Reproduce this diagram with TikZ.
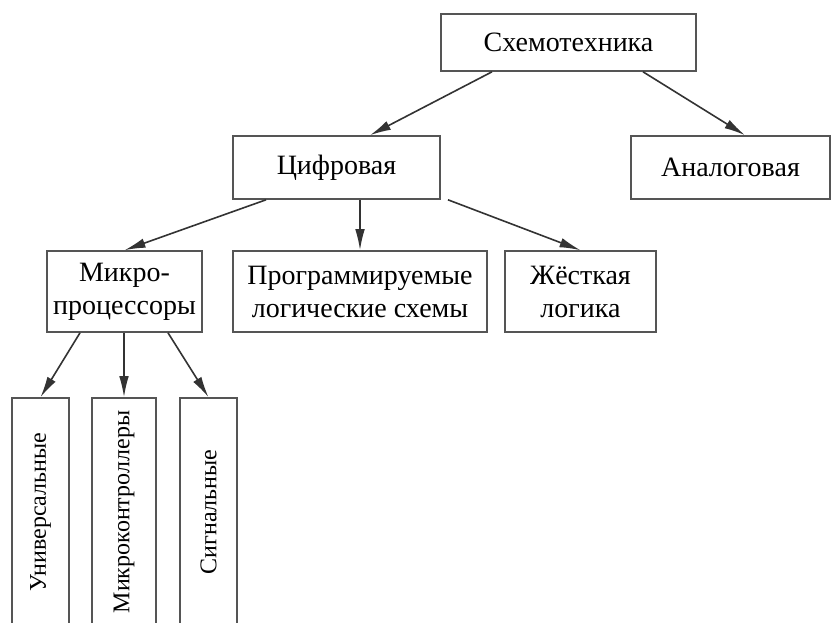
\documentclass[tikz,border=0pt]{standalone}
\usepackage{fontspec}
\setmainfont{Liberation Serif}
\usepackage{tikz}
\usetikzlibrary{calc,arrows.meta}
\definecolor{frame}{HTML}{555555}
\definecolor{wire}{HTML}{333333}
\tikzset{blk/.style={rectangle,draw=frame,thick,fill=white,inner sep=2pt,align=center,font=\fontsize{14}{16.5}\selectfont},
  vblk/.style={blk,rotate=90,minimum width=114pt,minimum height=28.5pt,font=\fontsize{12}{14}\selectfont},
  arr/.style={draw=wire,thick,-{Latex[length=10.5pt,width=4.8pt]}}}
\begin{document}
\begin{tikzpicture}[x=0.5pt,y=-0.5pt]
\useasboundingbox (0,0) rectangle (833,622);
\clip (0,0) rectangle (833,622);
\node[blk,minimum width=127.5pt,minimum height=28.5pt] (top) at (568.5,42.5) {Схемотехника};
\node[blk,minimum width=103.5pt,minimum height=31.5pt] (dig) at (336.5,167.5) {Цифровая};
\node[blk,minimum width=99.5pt,minimum height=31.5pt] (ana) at (730.5,167.5) {Аналоговая};
\node[blk,minimum width=77.5pt,minimum height=40.5pt] (mp) at (124.5,291.5) {Микро-\\процессоры};
\node[blk,minimum width=127pt,minimum height=40.5pt] (pls) at (360,291.5) {Программируемые\\логические схемы};
\node[blk,minimum width=75.5pt,minimum height=40.5pt] (hard) at (580.5,291.5) {Жёсткая\\логика};
\node[vblk] (uni) at (40.5,512) {Универсальные};
\node[vblk,minimum height=32pt] (mcu) at (124,512) {Микроконтроллеры};
\node[vblk] (sig) at (208.5,512) {Сигнальные};
% стрелки
\draw[arr] ($(top.south)+(-76.5,0)$) -- ($(dig.north)+(33.5,0)$);
\draw[arr] ($(top.south)+(74.5,0)$) -- ($(ana.north)+(14.5,0)$);
\draw[arr] ($(dig.south)+(-70.5,0)$) -- (mp.north);
\draw[arr] (pls.north |- dig.south) -- (pls.north);
\draw[arr] ($(dig.south)+(111.5,0)$) -- (hard.north);
\draw[arr] ($(mp.south)+(-44.5,0)$) -- (uni.east);
\draw[arr] (mcu.east |- mp.south) -- (mcu.east);
\draw[arr] ($(mp.south)+(43.5,0)$) -- (sig.east);
\end{tikzpicture}
\end{document}
